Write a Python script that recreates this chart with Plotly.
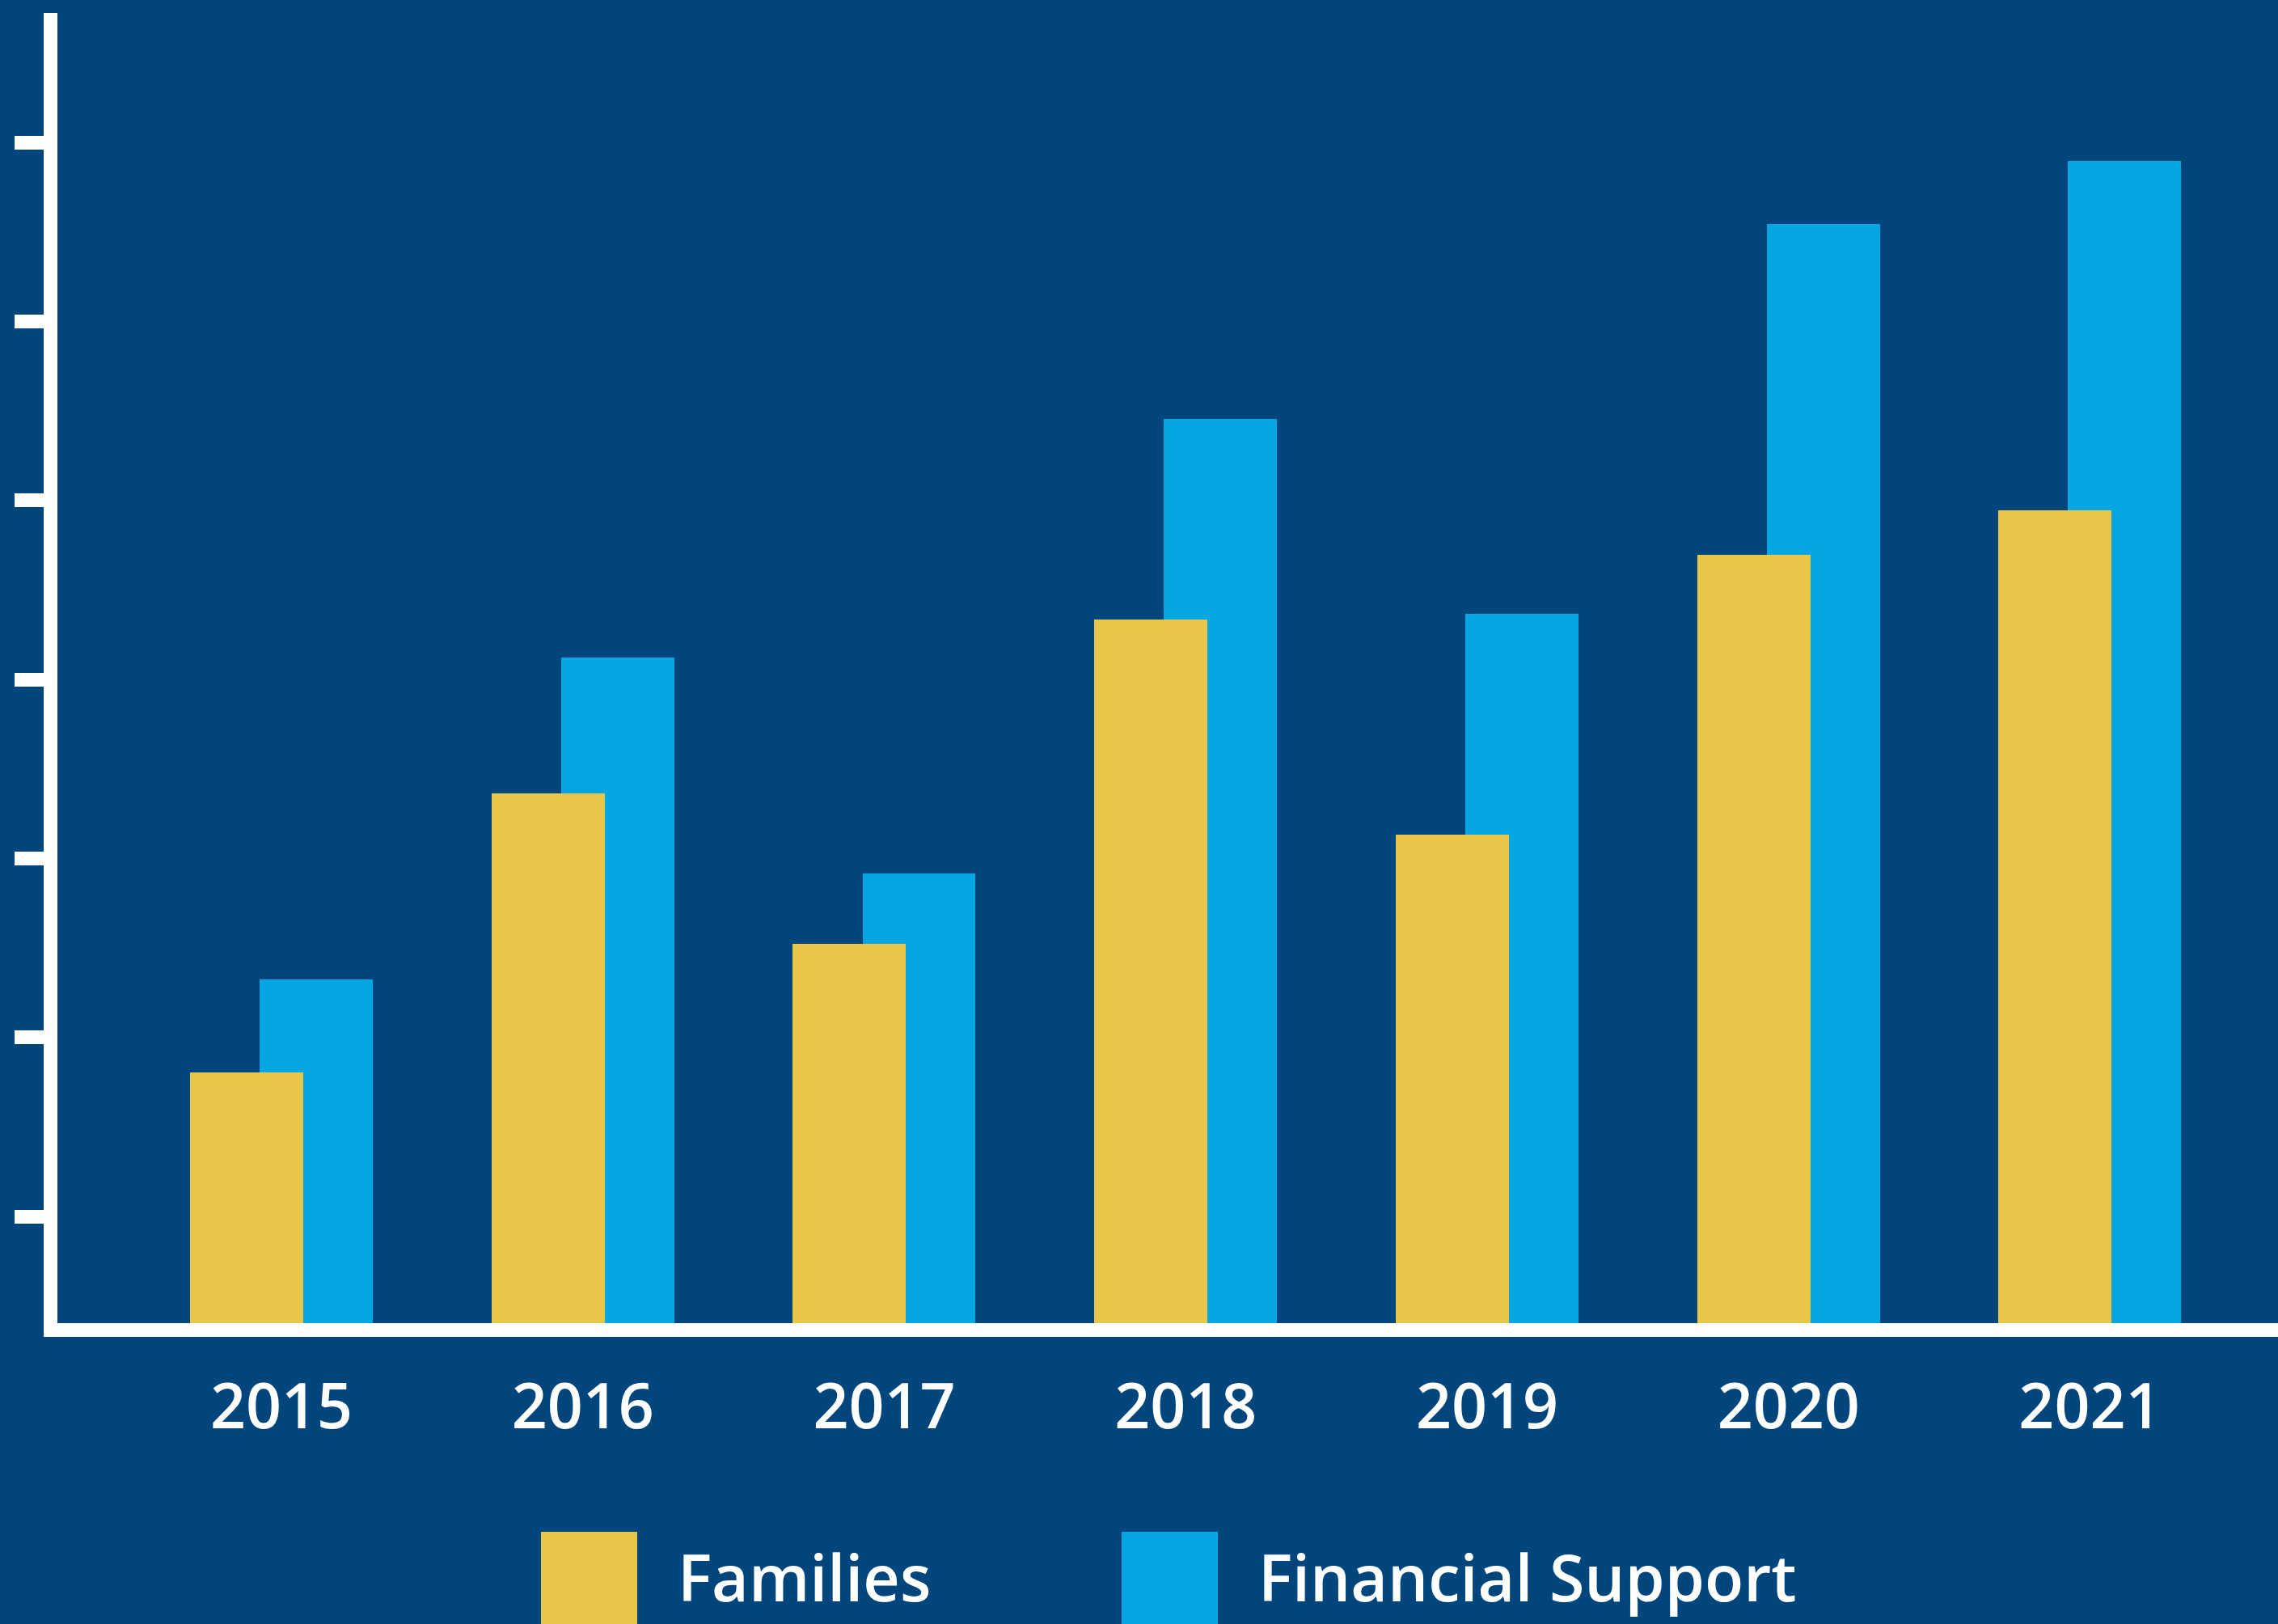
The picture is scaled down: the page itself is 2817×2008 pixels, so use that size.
import plotly.graph_objects as go

# ---- data ----
years = ["2015", "2016", "2017", "2018", "2019", "2020", "2021"]
families = [140, 296, 212, 393, 273, 429, 454]
financial_support = [192, 372, 251, 505, 396, 614, 649]
y_tick_values = [59.5, 159.5, 259.5, 359.5, 459.5, 559.5, 659.5]
series_names = ["Families", "Financial Support"]

# ---- style ----
BG = "#00467C"
YELLOW = "#E8C647"
BLUE = "#05A6E1"
WHITE = "#FFFFFF"
FONT = "Open Sans"
FONT_SIZE = 77
LEGEND_FONT_SIZE = 79
FONT_WEIGHT = 600

W, H = 2817, 2008
ML, MR, MT, MB = 71, 0, 16, 372
PW, PH = W - ML - MR, H - MT - MB

BAR_W = 0.3756

fig = go.Figure()
fig.add_trace(go.Bar(
    x=years, y=financial_support, name=series_names[1],
    marker=dict(color=BLUE, line=dict(width=0)),
    width=BAR_W, offset=-0.0724, showlegend=False,
))
fig.add_trace(go.Bar(
    x=years, y=families, name=series_names[0],
    marker=dict(color=YELLOW, line=dict(width=0)),
    width=BAR_W, offset=-0.3032, showlegend=False,
))


def px_x(px):
    return (px - ML) / PW


def px_y(py):
    return (H - MB - py) / PH


# custom legend: big swatches cut by the bottom edge, text beside them
legend_items = [
    (series_names[0], YELLOW, 669, 788, 836),
    (series_names[1], BLUE, 1387, 1506, 1554),
]
shapes = []
annotations = []
for name, color, x0, x1, tx in legend_items:
    shapes.append(dict(
        type="rect", xref="paper", yref="paper",
        x0=px_x(x0), x1=px_x(x1), y0=px_y(2040), y1=px_y(1894),
        fillcolor=color, line=dict(width=0), layer="above",
    ))
    annotations.append(dict(
        text=name, xref="paper", yref="paper",
        x=px_x(tx), y=px_y(1949), xanchor="left", yanchor="middle",
        showarrow=False,
        font=dict(family=FONT, size=LEGEND_FONT_SIZE, color=WHITE, weight=FONT_WEIGHT),
    ))

fig.update_layout(
    width=W, height=H,
    margin=dict(l=ML, r=MR, t=MT, b=MB, pad=0),
    paper_bgcolor=BG, plot_bgcolor=BG,
    barmode="overlay",
    bargap=0,
    shapes=shapes,
    annotations=annotations,
    font=dict(family=FONT, color=WHITE),
    xaxis=dict(
        type="category",
        range=[-0.7432, 6.624],
        showline=True, linewidth=17, linecolor=WHITE,
        ticks="", showgrid=False, zeroline=False,
        tickfont=dict(family=FONT, size=FONT_SIZE, color=WHITE, weight=FONT_WEIGHT),
        ticklabelstandoff=21,
    ),
    yaxis=dict(
        range=[0, 731.9],
        showline=True, linewidth=17, linecolor=WHITE,
        ticks="outside", ticklen=36, tickwidth=17, tickcolor=WHITE,
        tickmode="array", tickvals=y_tick_values,
        showticklabels=False, showgrid=False, zeroline=False,
    ),
)

fig.write_html("out.html", config={"displayModeBar": False})
